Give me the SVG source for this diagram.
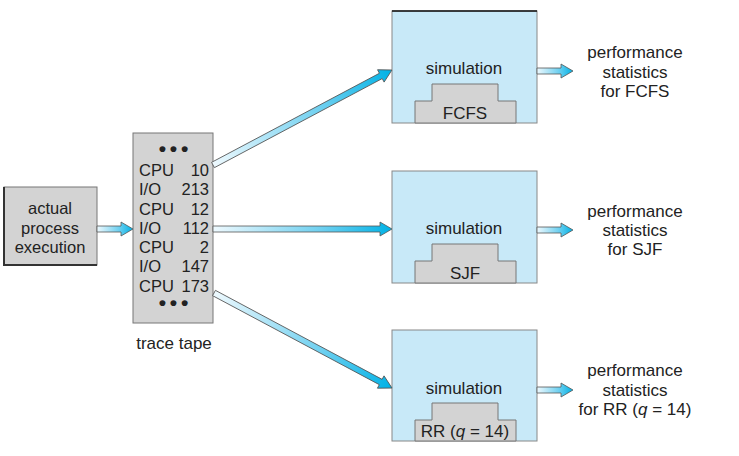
<svg xmlns="http://www.w3.org/2000/svg" width="739" height="456" viewBox="0 0 739 456">
<style>
text{font-family:"Liberation Sans",Arial,sans-serif;font-size:17px;fill:#222}
.t{font-size:16.5px}
.dots{font-size:21px;font-weight:bold;letter-spacing:-1px}
.c{text-anchor:middle}
.r{text-anchor:end}
.gray{fill:#d3d3d3;stroke:#777;stroke-width:1}
.sim{fill:#c8e9f8;stroke:#888;stroke-width:1}
.top{stroke:#111;stroke-width:1.5}
.arr{fill:url(#g);stroke:#555;stroke-width:0.8;stroke-linejoin:miter}
</style>
<defs>
<linearGradient id="g" x1="0" y1="0" x2="1" y2="0">
<stop offset="0" stop-color="#eef9fe"/>
<stop offset="0.6" stop-color="#6fd0f0"/>
<stop offset="1" stop-color="#00b2e6"/>
</linearGradient>
</defs>
<rect width="739" height="456" fill="#fff"/>

<g id="actual">
<rect class="gray" x="4" y="187" width="93" height="78"/>
<path d="M4,187 V265 H97" fill="none" stroke="#333" stroke-width="2"/>
<text class="c t" x="50" y="214">actual</text>
<text class="c t" x="50" y="234">process</text>
<text class="c t" x="50" y="253">execution</text>
</g>

<g id="trace">
<rect class="gray" x="133" y="133" width="80" height="190"/>
<text class="c dots" x="173" y="156">• • •</text>
<text class="t" x="139" y="176">CPU</text><text class="r t" x="209" y="176">10</text>
<text class="t" x="139" y="195">I/O</text><text class="r t" x="209" y="195">213</text>
<text class="t" x="139" y="215">CPU</text><text class="r t" x="209" y="215">12</text>
<text class="t" x="139" y="234">I/O</text><text class="r t" x="209" y="234">112</text>
<text class="t" x="139" y="253">CPU</text><text class="r t" x="209" y="253">2</text>
<text class="t" x="139" y="272">I/O</text><text class="r t" x="209" y="272">147</text>
<text class="t" x="139" y="292">CPU</text><text class="r t" x="209" y="292">173</text>
<text class="c dots" x="173" y="310">• • •</text>
<text class="c" x="174" y="349">trace tape</text>
</g>

<g id="sim-fcfs">
<rect class="sim" x="392" y="11" width="145" height="112"/>
<line class="top" x1="392" y1="11" x2="537" y2="11"/>
<text class="c" x="464" y="74">simulation</text>
<path class="gray" d="M415,123 V101 H432 V84 H498 V101 H516 V123 Z"/>
<text class="c" x="465" y="119">FCFS</text>
</g>

<g id="sim-sjf">
<rect class="sim" x="392" y="171" width="145" height="112"/>
<text class="c" x="464" y="234">simulation</text>
<path class="gray" d="M415,283 V261 H432 V244 H498 V261 H516 V283 Z"/>
<text class="c" x="465" y="279">SJF</text>
</g>

<g id="sim-rr">
<rect class="sim" x="392" y="330" width="145" height="111"/>
<text class="c" x="464" y="394">simulation</text>
<path class="gray" d="M415,441 V420 H432 V403 H498 V420 H516 V441 Z"/>
<text class="c" x="465" y="437">RR (<tspan font-style="italic">q</tspan> = 14)</text>
</g>

<g id="stats-fcfs">
<text class="c" x="635" y="58">performance</text>
<text class="c" x="635" y="78">statistics</text>
<text class="c" x="635" y="97">for FCFS</text>
</g>
<g id="stats-sjf">
<text class="c" x="635" y="217">performance</text>
<text class="c" x="635" y="236">statistics</text>
<text class="c" x="635" y="255">for SJF</text>
</g>
<g id="stats-rr">
<text class="c" x="635" y="376">performance</text>
<text class="c" x="635" y="396">statistics</text>
<text class="c" x="635" y="415">for RR (<tspan font-style="italic">q</tspan> = 14)</text>
</g>

<g id="connectors">
<path class="arr" transform="translate(97,229)" d="M0,-3 H24 V-7 L36,0 L24,7 V3 H0 Z"/>
<path class="arr" transform="translate(213,165) rotate(-27.96)" d="M0,-3 H190 V-7 L202.6,0 L190,7 V3 H0 Z"/>
<path class="arr" transform="translate(213,229)" d="M0,-3 H167 V-7 L179,0 L167,7 V3 H0 Z"/>
<path class="arr" transform="translate(214,293) rotate(28.1)" d="M0,-3 H189 V-7 L201.8,0 L189,7 V3 H0 Z"/>
<path class="arr" transform="translate(537,71)" d="M0,-3 H24 V-7 L36,0 L24,7 V3 H0 Z"/>
<path class="arr" transform="translate(537,230)" d="M0,-3 H24 V-7 L36,0 L24,7 V3 H0 Z"/>
<path class="arr" transform="translate(537,390)" d="M0,-3 H24 V-7 L36,0 L24,7 V3 H0 Z"/>
</g>
</svg>
